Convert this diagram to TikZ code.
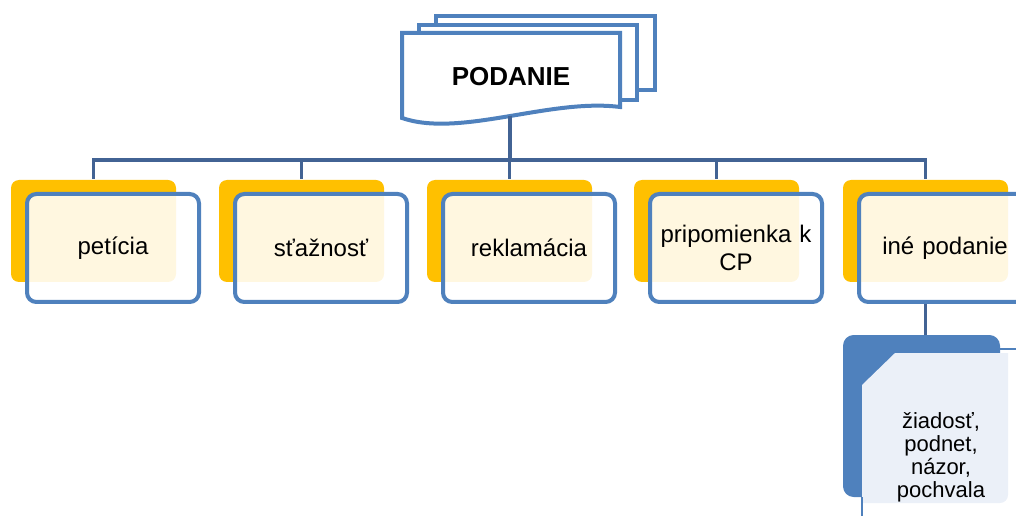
\documentclass[tikz,border=0pt]{standalone}
\usepackage{fontspec}
\setmainfont{Liberation Sans}
\definecolor{boxblue}{RGB}{79,129,189}
\definecolor{linkblue}{RGB}{66,99,148}
\definecolor{backgold}{RGB}{255,192,0}
\definecolor{panelgrey}{RGB}{235,240,248}

\tikzset{every picture/.style={line width=0.75pt}}

\begin{document}
\begin{tikzpicture}[x=0.75pt,y=0.75pt,yscale=-1,xscale=1,
  backbox/.style={fill=backgold, rounded corners=6pt, minimum width=123.75pt, minimum height=76.5pt, inner sep=0pt},
  frontbox/.style={draw=boxblue, line width=3pt, fill=white, fill opacity=0.88, text opacity=1, rounded corners=7pt, minimum width=129pt, minimum height=81pt, text width=124pt, inner sep=1pt, align=center, font=\fontsize{18}{21}\selectfont},
  docpage/.style={draw=boxblue, line width=3pt, fill=white},
  link/.style={draw=linkblue, line width=2.6pt}]
\useasboundingbox (0,0) rectangle (1016,516);
\clip (0,0) rectangle (1016,516);

%Shape: Document stack
\draw [docpage] (436,16) -- (655,16) -- (655,90) -- (436,90) -- cycle ;
\draw [docpage] (419,25) -- (637,25) -- (637,100) -- (419,100) -- cycle ;
\draw [docpage] (402,33) -- (620,33) -- (620,107) .. controls (550,98) and (460,138) .. (402,118) -- cycle ;
\coordinate (docbase) at (510,116);

% Text Node
\node [font=\bfseries\fontsize{19.5}{20}\selectfont] (podanie) at (511,77) {PODANIE};

%Shape: Rounded Rectangles
\foreach \i/\x/\txt in {1/113/petícia,2/321/sťažnosť,3/529/reklamácia,4/736/{pripomienka k\\CP},5/945/iné podanie}{
  \node [backbox] (o\i) at (\x-19.5,231) {};
  \node [frontbox] (f\i) at (\x,248) {\txt};
}

%Straight Lines
\foreach \i in {1,...,5}
  \draw [link] (docbase) -- ++(0,44) -| (o\i.north);

%Shape: Rounded Rectangle
\node [fill=boxblue, rounded corners=8pt, minimum width=117.75pt, minimum height=121.5pt, inner sep=0pt] (ext) at (921.5,416) {};
\draw [link] (o5.north |- f5.south) -- (o5.north |- ext.north);
\draw [fill=panelgrey, draw=none] (862,385) -- (895,353) -- (1008,353) [rounded corners=6pt] -- (1008,503) [sharp corners] -- (862,503) -- cycle ;
\draw [boxblue, line width=1.5pt] (862,497) -- (862,516) ;
\draw [boxblue, line width=1pt] (997,349) -- (1016,349) ;

% Text Node
\node [align=center, font=\fontsize{16.5}{17.25}\selectfont] (kinds) at (941,457) {žiadosť,\\podnet,\\názor,\\pochvala};

\end{tikzpicture}
\end{document}
